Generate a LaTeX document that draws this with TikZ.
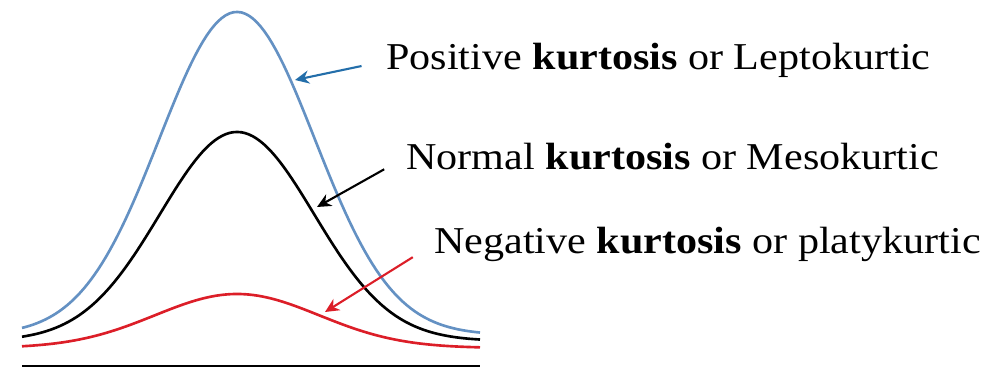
\documentclass[tikz,border=0pt]{standalone}
\usepackage{fontspec}
\setmainfont{Liberation Serif}
\usetikzlibrary{arrows.meta,positioning}
\definecolor{leptoblue}{RGB}{100,145,195}
\definecolor{arrowblue}{RGB}{35,110,170}
\definecolor{platyred}{RGB}{220,30,40}
\tikzset{
  crv/.style={line width=1.5pt},
  arrw/.style={-{Stealth[length=8pt,width=7.5pt]},line width=1.2pt,shorten <=0.5cm},
  lbl/.style={anchor=base west,inner sep=0pt,xscale=1.11,font=\fontsize{21.6pt}{26pt}\selectfont},
  axisline/.style={line width=1.7pt},
}

\begin{document}
\begin{tikzpicture}[x=0.02cm,y=-0.02cm]
  \useasboundingbox (0,0) rectangle (993,371);
  % the three curves (pixel units)
  \draw[crv,leptoblue] plot[domain=22:480,samples=120] (\x,{335-323*exp(-((\x-237)/100)^2/1.21)});
  \draw[crv,black] plot[domain=22:480,samples=120] (\x,{341-209*exp(-((\x-237)/100)^2/1.19)});
  \draw[crv,platyred] plot[domain=22:480,samples=120] (\x,{348-54*exp(-((\x-237)/100)^2/1.345)});
  \draw[axisline] (22,366) -- (480,366);
  % labels and arrows
  \node[lbl] (lepto) at (386,70) {Positive \textbf{kurtosis} or Leptokurtic};
  \node[lbl] (meso) at (406,170) {Normal \textbf{kurtosis} or Mesokurtic};
  \node[lbl] (platy) at (434,253) {Negative \textbf{kurtosis} or platykurtic};
  \coordinate (tl) at (295,80);
  \coordinate (tm) at (317,207);
  \coordinate (tp) at (325,312);
  \draw[arrw,arrowblue] (lepto.west) -- (tl);
  \draw[arrw,black] (meso.west) -- (tm);
  \draw[arrw,platyred] (platy.west) -- (tp);
\end{tikzpicture}
\end{document}
